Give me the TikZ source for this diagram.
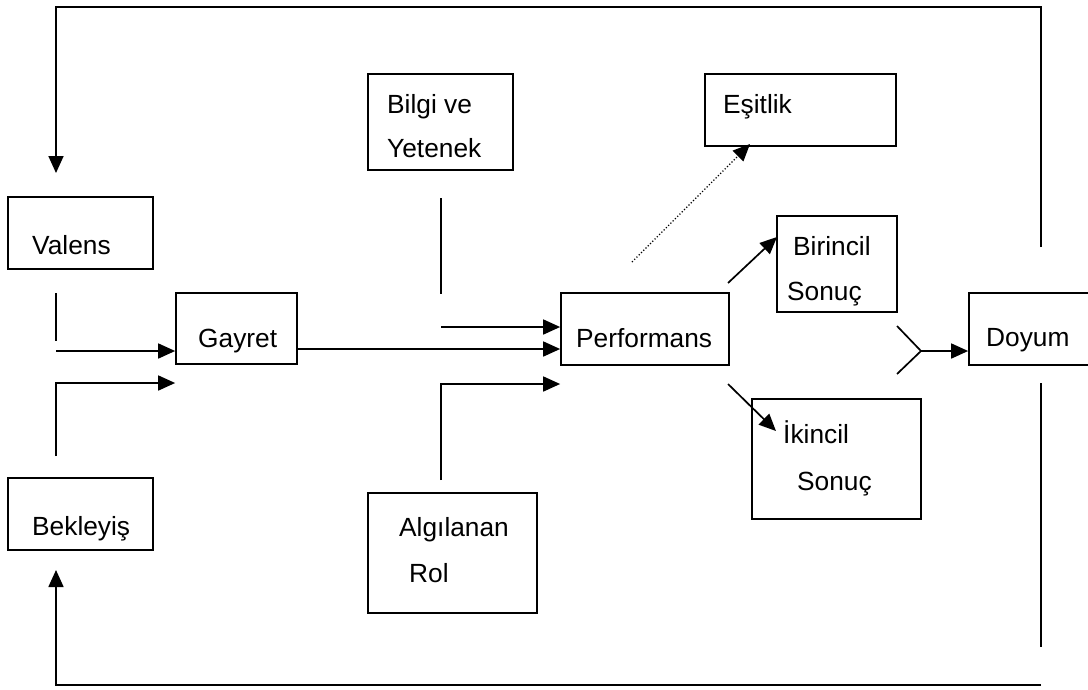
\documentclass[tikz,border=0pt]{standalone}
\usepackage{fontspec}
\setmainfont{Liberation Sans}
\usetikzlibrary{arrows.meta}
\tikzset{
 box/.style={draw=black, line width=1.7pt, fill=white, inner sep=0pt},
 lbl/.style={anchor=base west, inner sep=0pt, font=\fontsize{26.3}{30}\selectfont},
 line/.style={draw=black, line width=1.7pt},
 arrow/.style={line, -{Triangle[length=17pt,width=15pt]}},
 dotarrow/.style={draw=black, line width=1.2pt, dotted, -{Triangle[length=17pt,width=15pt]}}
}
\begin{document}
\begin{tikzpicture}[x=1pt,y=-1pt]
\clip (0,0) rectangle (1088,689);
% boxes
\foreach \n/\x/\y/\w/\h in {valens/80.5/233/145/72, gayret/236.5/328.5/121/71, bekleyis/80.5/514/145/72,
  bilgi/440.5/122/145/96, algilanan/452.5/553/169/120, performans/645/329/168/72,
  esitlik/800.5/110/191/72, birincil/837/264/120/96, ikincil/836.5/459/169/120, doyum/1042/329/146/72}
 {\node[box, minimum width=\w pt, minimum height=\h pt] (\n) at (\x,\y) {};}
% texts
\foreach \n/\x/\y/\t in {tvalens/32/254/Valens, tgayret/198/347/Gayret, tbekleyis/32/535/Bekleyiş,
  tbilgi/387/113/Bilgi ve, tyetenek/387/157/Yetenek, talgilanan/399/536/Algılanan, trol/409/582/Rol,
  tperformans/576/347/Performans, tesitlik/723/113/Eşitlik, tbirincil/793/255/Birincil,
  tsonucA/787/300/Sonuç, tikincil/783/443/İkincil, tsonucB/797/490/Sonuç, tdoyum/986/346/Doyum}
 {\node[lbl] (\n) at (\x,\y) {\t};}
% into Gayret
\coordinate (vA) at (56,293);
\coordinate (vB) at (56,341);
\coordinate (vC) at (56,351);
\coordinate (bA) at (56,456);
\coordinate (bB) at (56,383);
\draw[line] (vA) -- (vB);
\draw[arrow] (vC) -- (vC -| gayret.west);
\draw[arrow] (bA) |- (bB -| gayret.west);
% into Performans
\coordinate (gp) at (0,349);
\coordinate (kA) at (441,198);
\coordinate (kB) at (441,294);
\coordinate (kC) at (441,327);
\coordinate (rA) at (441,480);
\coordinate (rB) at (441,384);
\draw[arrow] (gayret.east |- gp) -- (performans.west |- gp);
\draw[line] (kA) -- (kB);
\draw[arrow] (kC) -- (kC -| performans.west);
\draw[arrow] (rA) |- (rB -| performans.west);
% out of Performans
\coordinate (eA) at (632,262);
\coordinate (eB) at (750,144);
\coordinate (pA) at (728,283);
\coordinate (pB) at (777,237);
\coordinate (pC) at (728,384);
\coordinate (pD) at (776,431);
\draw[dotarrow] (eA) -- (eB);
\draw[arrow] (pA) -- (pB);
\draw[arrow] (pC) -- (pD);
% into Doyum
\coordinate (sA) at (897,326);
\coordinate (sB) at (921,351);
\coordinate (sC) at (897,374);
\draw[line] (sA) -- (sB) -- (sC);
\draw[arrow] (sB) -- (sB -| doyum.west);
% feedback
\coordinate (fA) at (1041,247);
\coordinate (fTop) at (1041,7);
\coordinate (fV) at (56,173);
\coordinate (fB) at (1041,383);
\coordinate (fC) at (1041,647);
\coordinate (fD) at (1041,685);
\coordinate (fE) at (56,570);
\draw[arrow] (fA) -- (fTop) -| (fV);
\draw[line] (fB) -- (fC);
\draw[arrow] (fD) -| (fE);
\end{tikzpicture}
\end{document}
